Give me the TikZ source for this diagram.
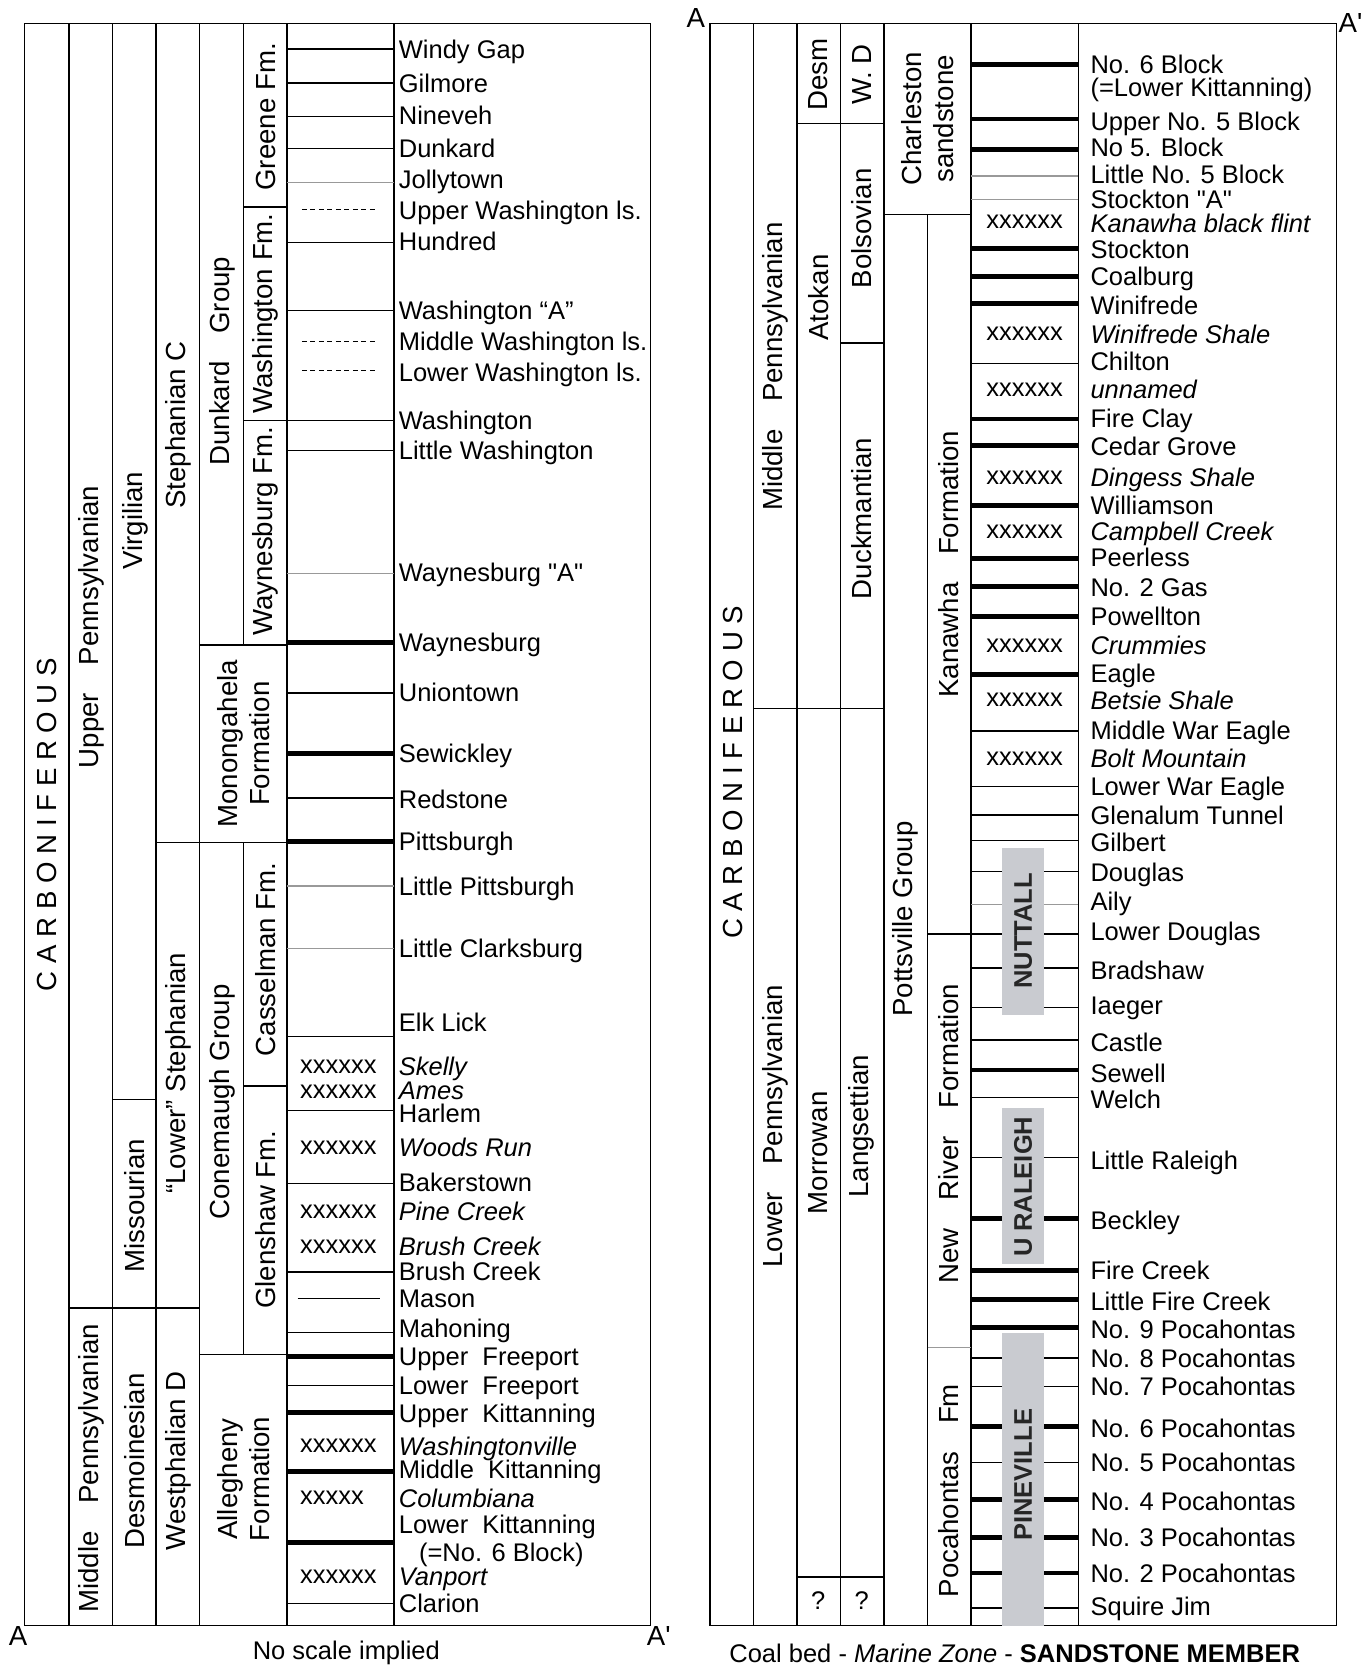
\documentclass[tikz,border=0pt]{standalone}
\usepackage{fontspec}
\setmainfont{Liberation Sans}[Ligatures=TeXOff]
\definecolor{memberfill}{RGB}{201,203,208}
\tikzset{
  rule/.style = {line width=0.7pt},
  seam/.style = {line width=0.7pt},
  coal/.style = {line width=2.3pt},
  faint/.style = {line width=0.6pt, draw=black!40},
  limey/.style = {line width=0.6pt, dash pattern=on 2.4pt off 1.6pt},
  bed/.style = {anchor=base west, yshift=-4.3pt, inner sep=0pt, font=\fontsize{12}{12}\selectfont},
  zone/.style = {bed, font=\fontsize{12}{12}\selectfont\itshape},
  xmark/.style = {anchor=west, inner sep=0pt, font=\fontsize{12}{12}\selectfont},
  unit/.style = {rotate=90, inner sep=0pt, align=center, font=\fontsize{13}{15}\selectfont},
  member/.style = {fill=memberfill, draw=none},
  memberlabel/.style = {rotate=90, inner sep=0pt, font=\fontsize{12}{12}\selectfont\bfseries, text=black!85},
  corner/.style = {inner sep=0pt, font=\fontsize{13}{13}\selectfont}
}

\begin{document}
\begin{tikzpicture}[x=0.5pt,y=-0.5pt]
  \useasboundingbox (0,0) rectangle (1290,1568);

  % left section
  \draw[rule] (23,22) rectangle (612,1530);
  \foreach \x in {65,106,147,188,270,371}
    \draw[rule] (\x,22) -- (\x,1530);
  \draw[rule] (229,22) -- (229,607) (229,793) -- (229,1275);
  \draw[rule] (65,1231) -- (188,1231) (106,1035) -- (147,1035)
    (147,793) -- (270,793) (188,607) -- (270,607)
    (229,195) -- (270,195) (229,396) -- (270,396)
    (229,1022) -- (270,1022) (188,1275) -- (270,1275);
  \foreach \y/\s in {46/seam,78/seam,109.5/seam,140/seam,171.5/faint,228/seam,
      292/seam,396/seam,424/seam,540/faint,605/coal,652/seam,709/coal,751/seam,
      792/coal,834/faint,893/faint,975.5/seam,1045/seam,1114/seam,1197/seam,
      1254/seam,1277/coal,1304/seam,1329/coal,1385/coal,1452/coal,1509/seam}
    \draw[\s] (270,\y) -- (371,\y);
  \foreach \y in {197.5,321.5,349}
    \draw[limey] (284,\y) -- (355,\y);
  \draw[seam] (280,1222) -- (358,1222);
  \foreach \y [count=\i] in {1004,1028,1080,1140,1173,1361,1484}
    \node[xmark] (lx\i) at (282,\y) {xxxxxx};
  \node[xmark] (lx8) at (282,1410) {xxxxx};

  \foreach \y/\t [count=\i] in {46/Windy Gap,78/Gilmore,109/Nineveh,140/Dunkard,
      169/Jollytown,198/Upper Washington ls.,227/Hundred,292/Washington “A”,
      321/Middle Washington ls.,350/Lower Washington ls.,396/Washington,
      424/Little Washington,539/Waynesburg "A",605/Waynesburg,652/Uniontown,
      709/Sewickley,752/Redstone,792/Pittsburgh,834/Little Pittsburgh,
      893/Little Clarksburg,962/Elk Lick,1048/Harlem,1113/Bakerstown,
      1197/Brush Creek,1222/Mason,1250/Mahoning,1277/Upper~ Freeport,
      1304/Lower~ Freeport,1330/Upper~ Kittanning,1383/Middle~ Kittanning,
      1435/Lower~ Kittanning,1509/Clarion}
    \node[bed] (lbed\i) at (375,\y) {\t};
  \node[bed] (lblock) at (394,1461) {(=No. 6 Block)};
  \foreach \y/\t [count=\i] in {1004/Skelly,1026/Ames,1080/Woods Run,1140/Pine Creek,
      1173/Brush Creek,1361/Washingtonville,1410/Columbiana,1484/Vanport}
    \node[zone] (lzone\i) at (375,\y) {\t};

  \node[unit] (lcarb) at (44,776) {C A R B O N I F E R O U S};
  \node[unit] (lupper) at (86,590) {Upper\quad Pennsylvanian};
  \node[unit] (lmiddle) at (86,1382) {Middle\quad Pennsylvanian};
  \node[unit] (virg) at (127,490) {Virgilian};
  \node[unit] (miss) at (127,1135) {Missourian};
  \node[unit] (desm) at (127,1375) {Desmoinesian};
  \node[unit] (stepc) at (168,400) {Stephanian C};
  \node[unit] (lstep) at (168,1010) {“Lower” Stephanian};
  \node[unit] (lwestd) at (168,1375) {Westphalian D};
  \node[unit] (dunk) at (209,340) {Dunkard\quad Group};
  \node[unit] (mono) at (229,700) {Monongahela\\Formation};
  \node[unit] (cone) at (209,1037) {Conemaugh Group};
  \node[unit] (alle) at (229,1392) {Allegheny\\Formation};
  \node[unit] (gree) at (250,110) {Greene Fm.};
  \node[unit] (wash) at (250,295) {Washington Fm.};
  \node[unit] (wayn) at (250,500) {Waynesburg Fm.};
  \node[unit] (cass) at (250,903) {Casselman Fm.};
  \node[unit] (glen) at (250,1148) {Glenshaw Fm.};

  \node[corner] (la) at (17,1540) {A};
  \node[corner] (lap) at (620,1540) {A'};
  \node[corner, font=\fontsize{12}{12}\selectfont] (lnote) at (326,1556) {No scale implied};

  % right section
  \draw[rule] (668,22) rectangle (1258,1530);
  \foreach \x in {709,750,791,832,914,1015}
    \draw[rule] (\x,22) -- (\x,1530);
  \draw[rule] (873,202) -- (873,1530);
  \draw[rule] (750,116) -- (832,116) (791,323) -- (832,323)
    (832,202) -- (914,202) (709,667) -- (832,667)
    (873,879) -- (914,879) (750,1484) -- (832,1484);
  \draw[faint] (873,1268) -- (914,1268);
  \foreach \y/\s in {60.5/coal,112/coal,141/coal,165.6/faint,188/faint,233.7/coal,
      260.4/coal,286/coal,342/seam,394.3/coal,419.7/coal,476/coal,525.4/coal,
      552/coal,580.3/coal,635.2/coal,687.9/seam,740.3/seam,767/seam,791/seam,
      820.2/seam,851/faint,879.2/seam,911.2/seam,948/seam,978.6/seam,1007/coal,
      1033/seam,1089.3/seam,1146.4/coal,1195.7/coal,1223.3/coal,1249/coal,
      1278.2/seam,1305/seam,1342.5/coal,1376.4/seam,1411.5/coal,1446.7/coal,
      1480.5/coal,1513.4/seam}
    \draw[\s] (914,\y) -- (1015,\y);
  \foreach \y [count=\i] in {208.6,313.7,366.4,449.2,500.3,607.9,658.7,714.5}
    \node[xmark] (rx\i) at (928,\y) {xxxxxx};

  \fill[member] (943,798) rectangle (983,955);
  \fill[member] (943,1043) rectangle (983,1190);
  \fill[member] (943,1255) rectangle (983,1530);
  \node[memberlabel] (nutt) at (963,876) {NUTTALL};
  \node[memberlabel] (rale) at (963,1117) {U RALEIGH};
  \node[memberlabel] (pine) at (963,1388) {PINEVILLE};

  \foreach \y/\t [count=\i] in {61/No. 6 Block,82/(=Lower Kittanning),
      114/Upper No. 5 Block,139/No 5. Block,164/Little No. 5 Block,
      188/Stockton "A",235/Stockton,260/Coalburg,287/Winifrede,340/Chilton,
      394/Fire Clay,420/Cedar Grove,476/Williamson,525/Peerless,553/No. 2 Gas,
      580/Powellton,634/Eagle,687/Middle War Eagle,740/Lower War Eagle,
      767/Glenalum Tunnel,793/Gilbert,821/Douglas,848/Aily,877/Lower Douglas,
      913/Bradshaw,946/Iaeger,981/Castle,1010/Sewell,1035/Welch,
      1092/Little Raleigh,1149/Beckley,1196/Fire Creek,1225/Little Fire Creek,
      1251/No. 9 Pocahontas,1278/No. 8 Pocahontas,1305/No. 7 Pocahontas,
      1344/No. 6 Pocahontas,1376/No. 5 Pocahontas,1413/No. 4 Pocahontas,
      1447/No. 3 Pocahontas,1481/No. 2 Pocahontas,1512/Squire Jim}
    \node[bed] (rbed\i) at (1026,\y) {\t};
  \foreach \y/\t [count=\i] in {210/Kanawha black flint,315/Winifrede Shale,
      366/unnamed,449/Dingess Shale,500/Campbell Creek,607/Crummies,
      659/Betsie Shale,714/Bolt Mountain}
    \node[zone] (rzone\i) at (1026,\y) {\t};

  \node[unit] (rcarb) at (690,727) {C A R B O N I F E R O U S};
  \node[unit] (rmiddle) at (730,345) {Middle\quad Pennsylvanian};
  \node[unit] (rlower) at (730,1060) {Lower\quad Pennsylvanian};
  \node[unit] (rdesm) at (770,70) {Desm};
  \node[unit] (atok) at (770,280) {Atokan};
  \node[unit] (morr) at (770,1085) {Morrowan};
  \node[unit] (rwd) at (811,70) {W. D};
  \node[unit] (bols) at (811,215) {Bolsovian};
  \node[unit] (duck) at (811,488) {Duckmantian};
  \node[unit] (lang) at (811,1060) {Langsettian};
  \node[unit] (char) at (873,112) {Charleston\\sandstone};
  \node[unit] (pott) at (852,865) {Pottsville Group};
  \node[unit] (kana) at (893,531) {Kanawha\quad Formation};
  \node[unit] (newr) at (893,1067) {New\quad River\quad Formation};
  \node[unit] (poca) at (893,1403) {Pocahontas\quad Fm};
  \node[corner, font=\fontsize{12}{12}\selectfont] (rq1) at (770,1506) {?};
  \node[corner, font=\fontsize{12}{12}\selectfont] (rq2) at (811,1506) {?};

  \node[corner] (ra) at (655,17) {A};
  \node[corner] (rap) at (1271,22) {A'};
  \node[corner, font=\fontsize{12}{12}\selectfont] (rkey) at (955,1556)
    {Coal bed - \textit{Marine Zone} - \textbf{SANDSTONE MEMBER}};
\end{tikzpicture}
\end{document}
